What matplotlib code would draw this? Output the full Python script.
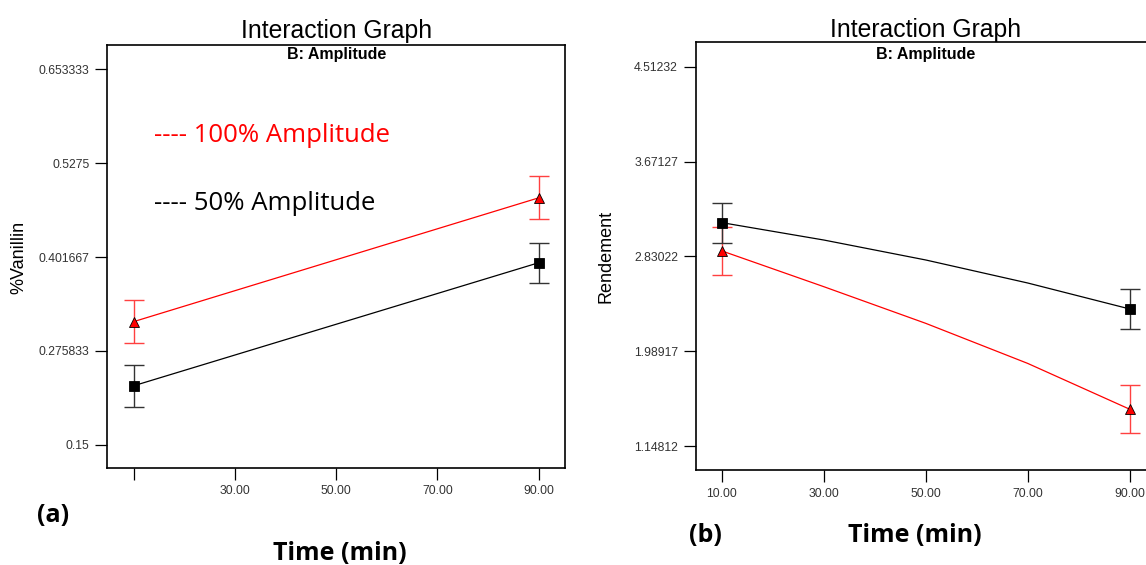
import matplotlib.pyplot as plt

W, H = 1146, 565

time_ticks = [10, 30, 50, 70, 90]
left_xlabels = ["", "30.00", "50.00", "70.00", "90.00"]
right_xlabels = ["10.00", "30.00", "50.00", "70.00", "90.00"]

# (a) %Vanillin
van_time = [10, 90]
van_100 = [0.315, 0.481]
van_100_err = [0.029, 0.029]
van_50 = [0.229, 0.394]
van_50_err = [0.028, 0.027]
van_yticks = [0.15, 0.275833, 0.401667, 0.5275, 0.653333]

# (b) Rendement
ren_time = [10, 30, 50, 70, 90]
ren_100 = [2.878, 2.561, 2.236, 1.881, 1.475]
ren_50 = [3.129, 2.975, 2.798, 2.594, 2.364]
ren_end_time = [10, 90]
ren_100_end = [2.878, 1.475]
ren_50_end = [3.129, 2.364]
ren_100_err = [0.215, 0.215]
ren_50_err = [0.177, 0.18]
ren_yticks = [1.14812, 1.98917, 2.83022, 3.67127, 4.51232]

ARIAL = "Liberation Sans"
CALIBRI = "Open Sans"


def box(left, top, right, bottom):
    return [left / W, 1 - bottom / H, (right - left) / W, (bottom - top) / H]


def px(x, y):
    return x / W, 1 - y / H


def style_axes(ax, yticks, xlabels, xlim, ylim, ylabel, title_pad, sub_y):
    ax.set_xlim(*xlim)
    ax.set_ylim(*ylim)
    ax.set_xticks(time_ticks, labels=xlabels)
    ax.set_yticks(yticks, labels=[f"{v:g}" for v in yticks])
    for lab in ax.get_xticklabels() + ax.get_yticklabels():
        lab.set_fontfamily(ARIAL)
        lab.set_fontsize(8.8)
        lab.set_color("#333333")
    ax.tick_params(direction="out", length=8.6, width=0.9, color="black")
    ax.tick_params(axis="y", pad=4)
    ax.tick_params(axis="x", pad=4)
    for sp in ax.spines.values():
        sp.set_linewidth(1.2)
    ax.set_title("Interaction Graph", fontfamily=ARIAL, fontsize=17.8, pad=title_pad)
    ax.text(0.5, sub_y, "B: Amplitude", transform=ax.transAxes, ha="center",
            va="center", fontfamily=ARIAL, fontsize=11.5, fontweight="bold")


def draw_series(ax, t, y_line, t_end, y_end, err, color, marker, ecolor):
    ax.plot(t, y_line, color=color, lw=0.9, zorder=2)
    ax.errorbar(t_end, y_end, yerr=err, fmt="none", ecolor=ecolor,
                elinewidth=1, capsize=7, capthick=1, zorder=3)
    ax.plot(t_end, y_end, ls="none", marker=marker, ms=7.2,
            mfc=color, mec="black", mew=0.6, zorder=4)


fig = plt.figure(figsize=(W / 100, H / 100), dpi=100)

ax1 = fig.add_axes(box(107, 45, 565.4, 468))
draw_series(ax1, van_time, van_50, van_time, van_50, van_50_err, "black", "s", "#333333")
draw_series(ax1, van_time, van_100, van_time, van_100, van_100_err, "red", "^", "#ff4040")
style_axes(ax1, van_yticks, left_xlabels, (4.75, 95.27), (0.1188, 0.6859),
           "%Vanillin", 5, 1 - 10 / 423)

ax2 = fig.add_axes(box(695.5, 42, 1156, 470.3))
draw_series(ax2, ren_time, ren_100, ren_end_time, ren_100_end, ren_100_err, "red", "^", "#ff4040")
draw_series(ax2, ren_time, ren_50, ren_end_time, ren_50_end, ren_50_err, "black", "s", "#333333")
style_axes(ax2, ren_yticks, right_xlabels, (4.8, 95.2), (0.9326, 4.7314),
           "Rendement", 3.6, 1 - 12 / 428)

# axis titles placed as in the figure
fig.text(*px(19, 257), "%Vanillin", rotation=90, ha="center", va="center",
         fontfamily=ARIAL, fontsize=13)
fig.text(*px(606, 256), "Rendement", rotation=90, ha="center", va="center",
         fontfamily=ARIAL, fontsize=13)

fig.text(*px(154, 135), "---- 100% Amplitude", color="red", ha="left",
         va="center", fontfamily=CALIBRI, fontsize=18.5)
fig.text(*px(154, 204), "---- 50% Amplitude", color="black", ha="left",
         va="center", fontfamily=CALIBRI, fontsize=18.5)

fig.text(*px(53, 515), "(a)", ha="center", va="center", fontfamily=CALIBRI,
         fontsize=18, fontweight="bold")
fig.text(*px(340, 553), "Time (min)", ha="center", va="center",
         fontfamily=CALIBRI, fontsize=18, fontweight="bold")
fig.text(*px(705, 535), "(b)", ha="center", va="center", fontfamily=CALIBRI,
         fontsize=18, fontweight="bold")
fig.text(*px(915, 535), "Time (min)", ha="center", va="center",
         fontfamily=CALIBRI, fontsize=18, fontweight="bold")

fig.savefig("out.png", dpi=100)
